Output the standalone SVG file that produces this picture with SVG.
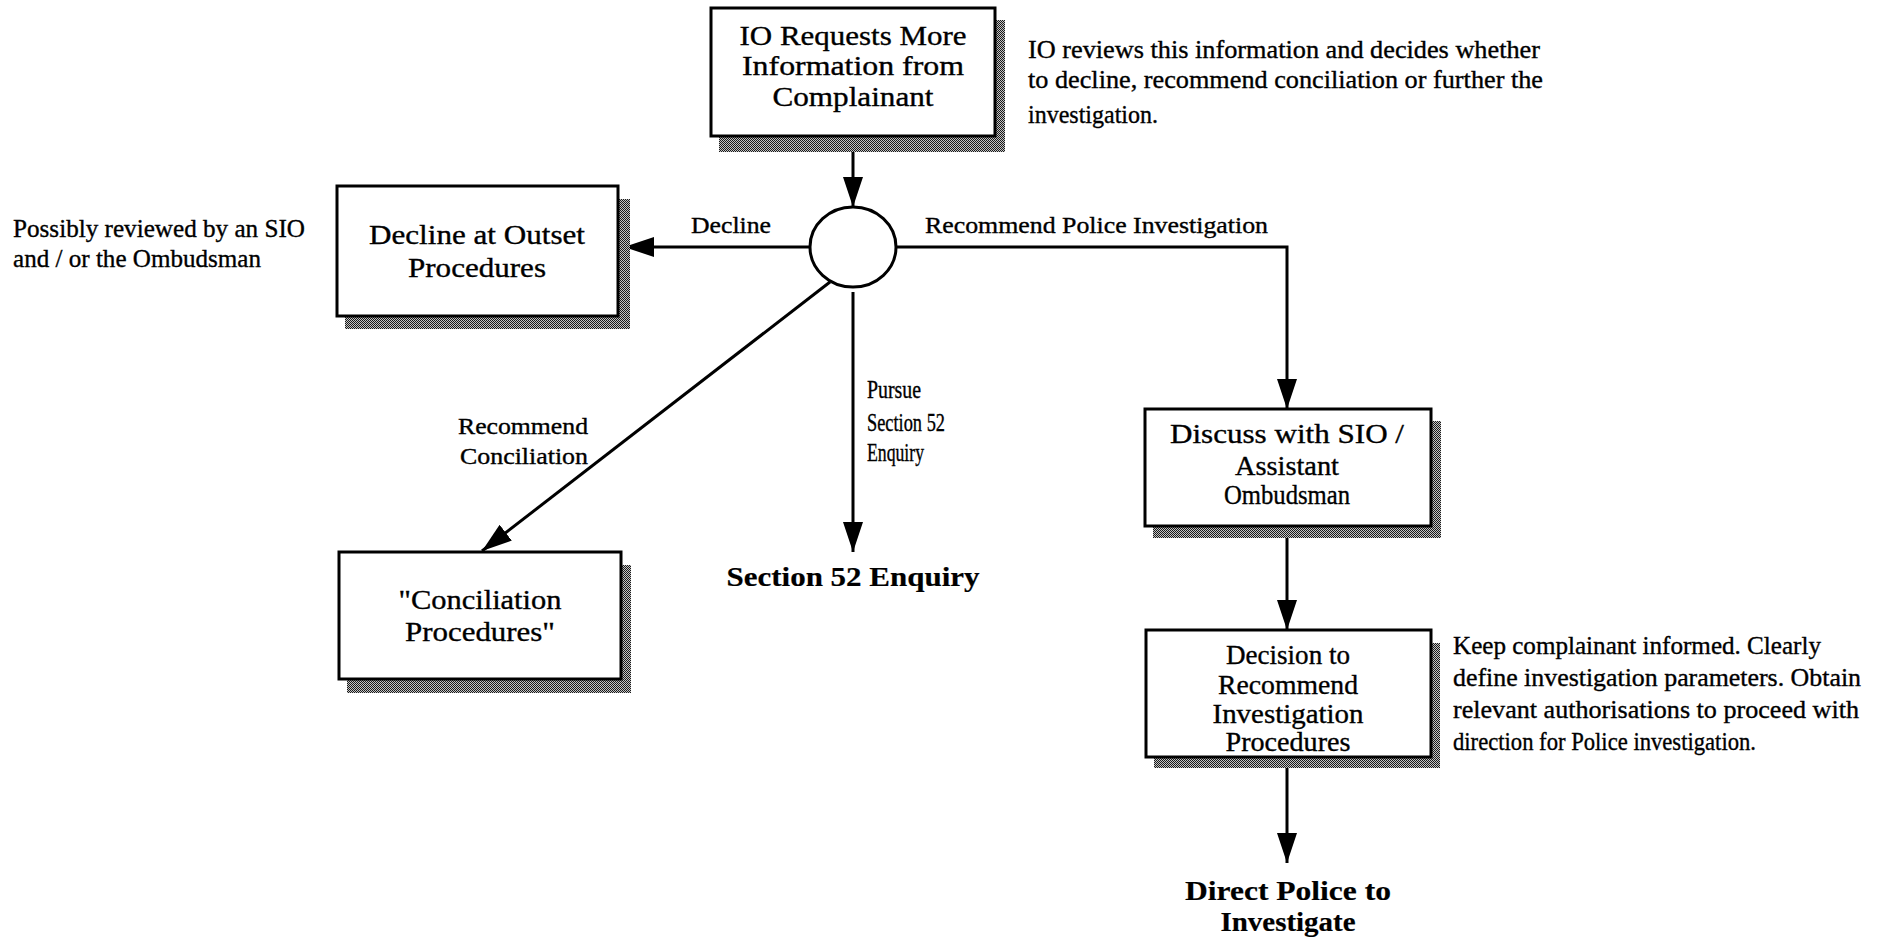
<svg xmlns="http://www.w3.org/2000/svg" width="1901" height="939" viewBox="0 0 1901 939">
  <defs>
    <!-- dithered drop shadow -->
    <pattern id="dither" width="2" height="2" patternUnits="userSpaceOnUse">
      <rect width="2" height="2" fill="#c4c4c4"/>
      <rect x="0" y="0" width="1" height="1" fill="#1a1a1a"/>
      <rect x="1" y="1" width="1" height="1" fill="#1a1a1a"/>
    </pattern>
    <marker id="arrow" markerUnits="userSpaceOnUse" markerWidth="30" markerHeight="20" refX="30" refY="10" orient="auto">
      <path d="M0,0 L30,10 L0,20 Z" fill="#000"/>
    </marker>
  </defs>
  <style>
    .box { fill: #fff; stroke: #000; stroke-width: 3; }
    .shadow { fill: url(#dither); }
    text { font-family: "Liberation Serif", "Times New Roman", serif; fill: #000; stroke: #000; stroke-width: 0.35; }
    .lbl { font-size: 27px; }
    .note { font-size: 25px; }
    .edge { font-size: 23px; }
    .tall { font-size: 25px; }
    .out { font-size: 28px; font-weight: bold; stroke-width: 0.2; }
    .c { text-anchor: middle; }
    .wire { fill: none; stroke: #000; stroke-width: 3; }
  </style>
  <rect width="1901" height="939" fill="#fff"/>

  <!-- connectors -->
  <g id="connectors">
    <path class="wire" d="M853,137 L853,207" marker-end="url(#arrow)"/>
    <path class="wire" d="M810,247 L624,247" marker-end="url(#arrow)"/>
    <path class="wire" d="M897,247 L1287,247 L1287,409" marker-end="url(#arrow)"/>
    <path class="wire" d="M830,282 L482,551" marker-end="url(#arrow)"/>
    <path class="wire" d="M853,292 L853,552" marker-end="url(#arrow)"/>
    <path class="wire" d="M1287,527 L1287,630" marker-end="url(#arrow)"/>
    <path class="wire" d="M1287,758 L1287,863" marker-end="url(#arrow)"/>
    <text class="edge" x="691" y="233" textLength="80" lengthAdjust="spacingAndGlyphs">Decline</text>
    <text class="edge" x="925" y="233" textLength="343" lengthAdjust="spacingAndGlyphs">Recommend Police Investigation</text>
    <text class="tall" x="867" y="398" textLength="54" lengthAdjust="spacingAndGlyphs">Pursue</text>
    <text class="tall" x="867" y="431" textLength="78" lengthAdjust="spacingAndGlyphs">Section 52</text>
    <text class="tall" x="867" y="461" textLength="57" lengthAdjust="spacingAndGlyphs">Enquiry</text>
    <text class="edge" x="588" y="434" text-anchor="end" textLength="130" lengthAdjust="spacingAndGlyphs">Recommend</text>
    <text class="edge" x="588" y="464" text-anchor="end" textLength="128" lengthAdjust="spacingAndGlyphs">Conciliation</text>
  </g>

  <!-- request for more information -->
  <g id="request">
    <rect class="shadow" x="719" y="20" width="286" height="132"/>
    <rect class="box" x="711" y="8" width="284" height="128"/>
    <text class="lbl c" x="853" y="45" textLength="227" lengthAdjust="spacingAndGlyphs">IO Requests More</text>
    <text class="lbl c" x="853" y="75" textLength="222" lengthAdjust="spacingAndGlyphs">Information from</text>
    <text class="lbl c" x="853" y="106" textLength="161" lengthAdjust="spacingAndGlyphs">Complainant</text>
  </g>
  <g id="request-note">
    <text class="note" x="1028" y="58" textLength="512" lengthAdjust="spacingAndGlyphs">IO reviews this information and decides whether</text>
    <text class="note" x="1028" y="88" textLength="515" lengthAdjust="spacingAndGlyphs">to decline, recommend conciliation or further the</text>
    <text class="note" x="1028" y="123" textLength="130" lengthAdjust="spacingAndGlyphs">investigation.</text>
  </g>

  <!-- decision point -->
  <g id="decision-point">
    <ellipse cx="853" cy="247" rx="43" ry="40" fill="#fff" stroke="#000" stroke-width="3"/>
  </g>

  <!-- decline at outset -->
  <g id="decline">
    <rect class="shadow" x="345" y="199" width="285" height="130"/>
    <rect class="box" x="337" y="186" width="281" height="130"/>
    <text class="lbl c" x="477" y="244" textLength="216" lengthAdjust="spacingAndGlyphs">Decline at Outset</text>
    <text class="lbl c" x="477" y="277" textLength="138" lengthAdjust="spacingAndGlyphs">Procedures</text>
  </g>
  <g id="decline-note">
    <text class="note" x="13" y="237" textLength="292" lengthAdjust="spacingAndGlyphs">Possibly reviewed by an SIO</text>
    <text class="note" x="13" y="267" textLength="248" lengthAdjust="spacingAndGlyphs">and / or the Ombudsman</text>
  </g>

  <!-- conciliation -->
  <g id="conciliation">
    <rect class="shadow" x="347" y="565" width="284" height="128"/>
    <rect class="box" x="339" y="552" width="282" height="127"/>
    <text class="lbl c" x="480" y="609" textLength="163" lengthAdjust="spacingAndGlyphs">"Conciliation</text>
    <text class="lbl c" x="480" y="641" textLength="150" lengthAdjust="spacingAndGlyphs">Procedures"</text>
  </g>

  <!-- section 52 outcome -->
  <g id="section52">
    <text class="out c" x="853" y="586" textLength="253" lengthAdjust="spacingAndGlyphs">Section 52 Enquiry</text>
  </g>

  <!-- discuss with SIO -->
  <g id="discuss">
    <rect class="shadow" x="1153" y="421" width="288" height="117"/>
    <rect class="box" x="1145" y="409" width="286" height="117"/>
    <text class="lbl c" x="1287" y="443" textLength="234" lengthAdjust="spacingAndGlyphs">Discuss with SIO /</text>
    <text class="lbl c" x="1287" y="475" textLength="104" lengthAdjust="spacingAndGlyphs">Assistant</text>
    <text class="lbl c" x="1287" y="504" textLength="126" lengthAdjust="spacingAndGlyphs">Ombudsman</text>
  </g>

  <!-- decision to recommend investigation -->
  <g id="recommend-investigation">
    <rect class="shadow" x="1154" y="643" width="286" height="125"/>
    <rect class="box" x="1146" y="630" width="285" height="127"/>
    <text class="lbl c" x="1288" y="664" textLength="124" lengthAdjust="spacingAndGlyphs">Decision to</text>
    <text class="lbl c" x="1288" y="694" textLength="140" lengthAdjust="spacingAndGlyphs">Recommend</text>
    <text class="lbl c" x="1288" y="723" textLength="151" lengthAdjust="spacingAndGlyphs">Investigation</text>
    <text class="lbl c" x="1288" y="751" textLength="125" lengthAdjust="spacingAndGlyphs">Procedures</text>
  </g>
  <g id="investigation-note">
    <text class="note" x="1453" y="654" textLength="368" lengthAdjust="spacingAndGlyphs">Keep complainant informed.  Clearly</text>
    <text class="note" x="1453" y="686" textLength="408" lengthAdjust="spacingAndGlyphs">define investigation parameters.  Obtain</text>
    <text class="note" x="1453" y="718" textLength="406" lengthAdjust="spacingAndGlyphs">relevant authorisations to proceed with</text>
    <text class="note" x="1453" y="750" textLength="303" lengthAdjust="spacingAndGlyphs">direction for Police investigation.</text>
  </g>

  <!-- direct police outcome -->
  <g id="direct-police">
    <text class="out c" x="1288" y="900" textLength="206" lengthAdjust="spacingAndGlyphs">Direct Police to</text>
    <text class="out c" x="1288" y="931" textLength="135" lengthAdjust="spacingAndGlyphs">Investigate</text>
  </g>
</svg>
